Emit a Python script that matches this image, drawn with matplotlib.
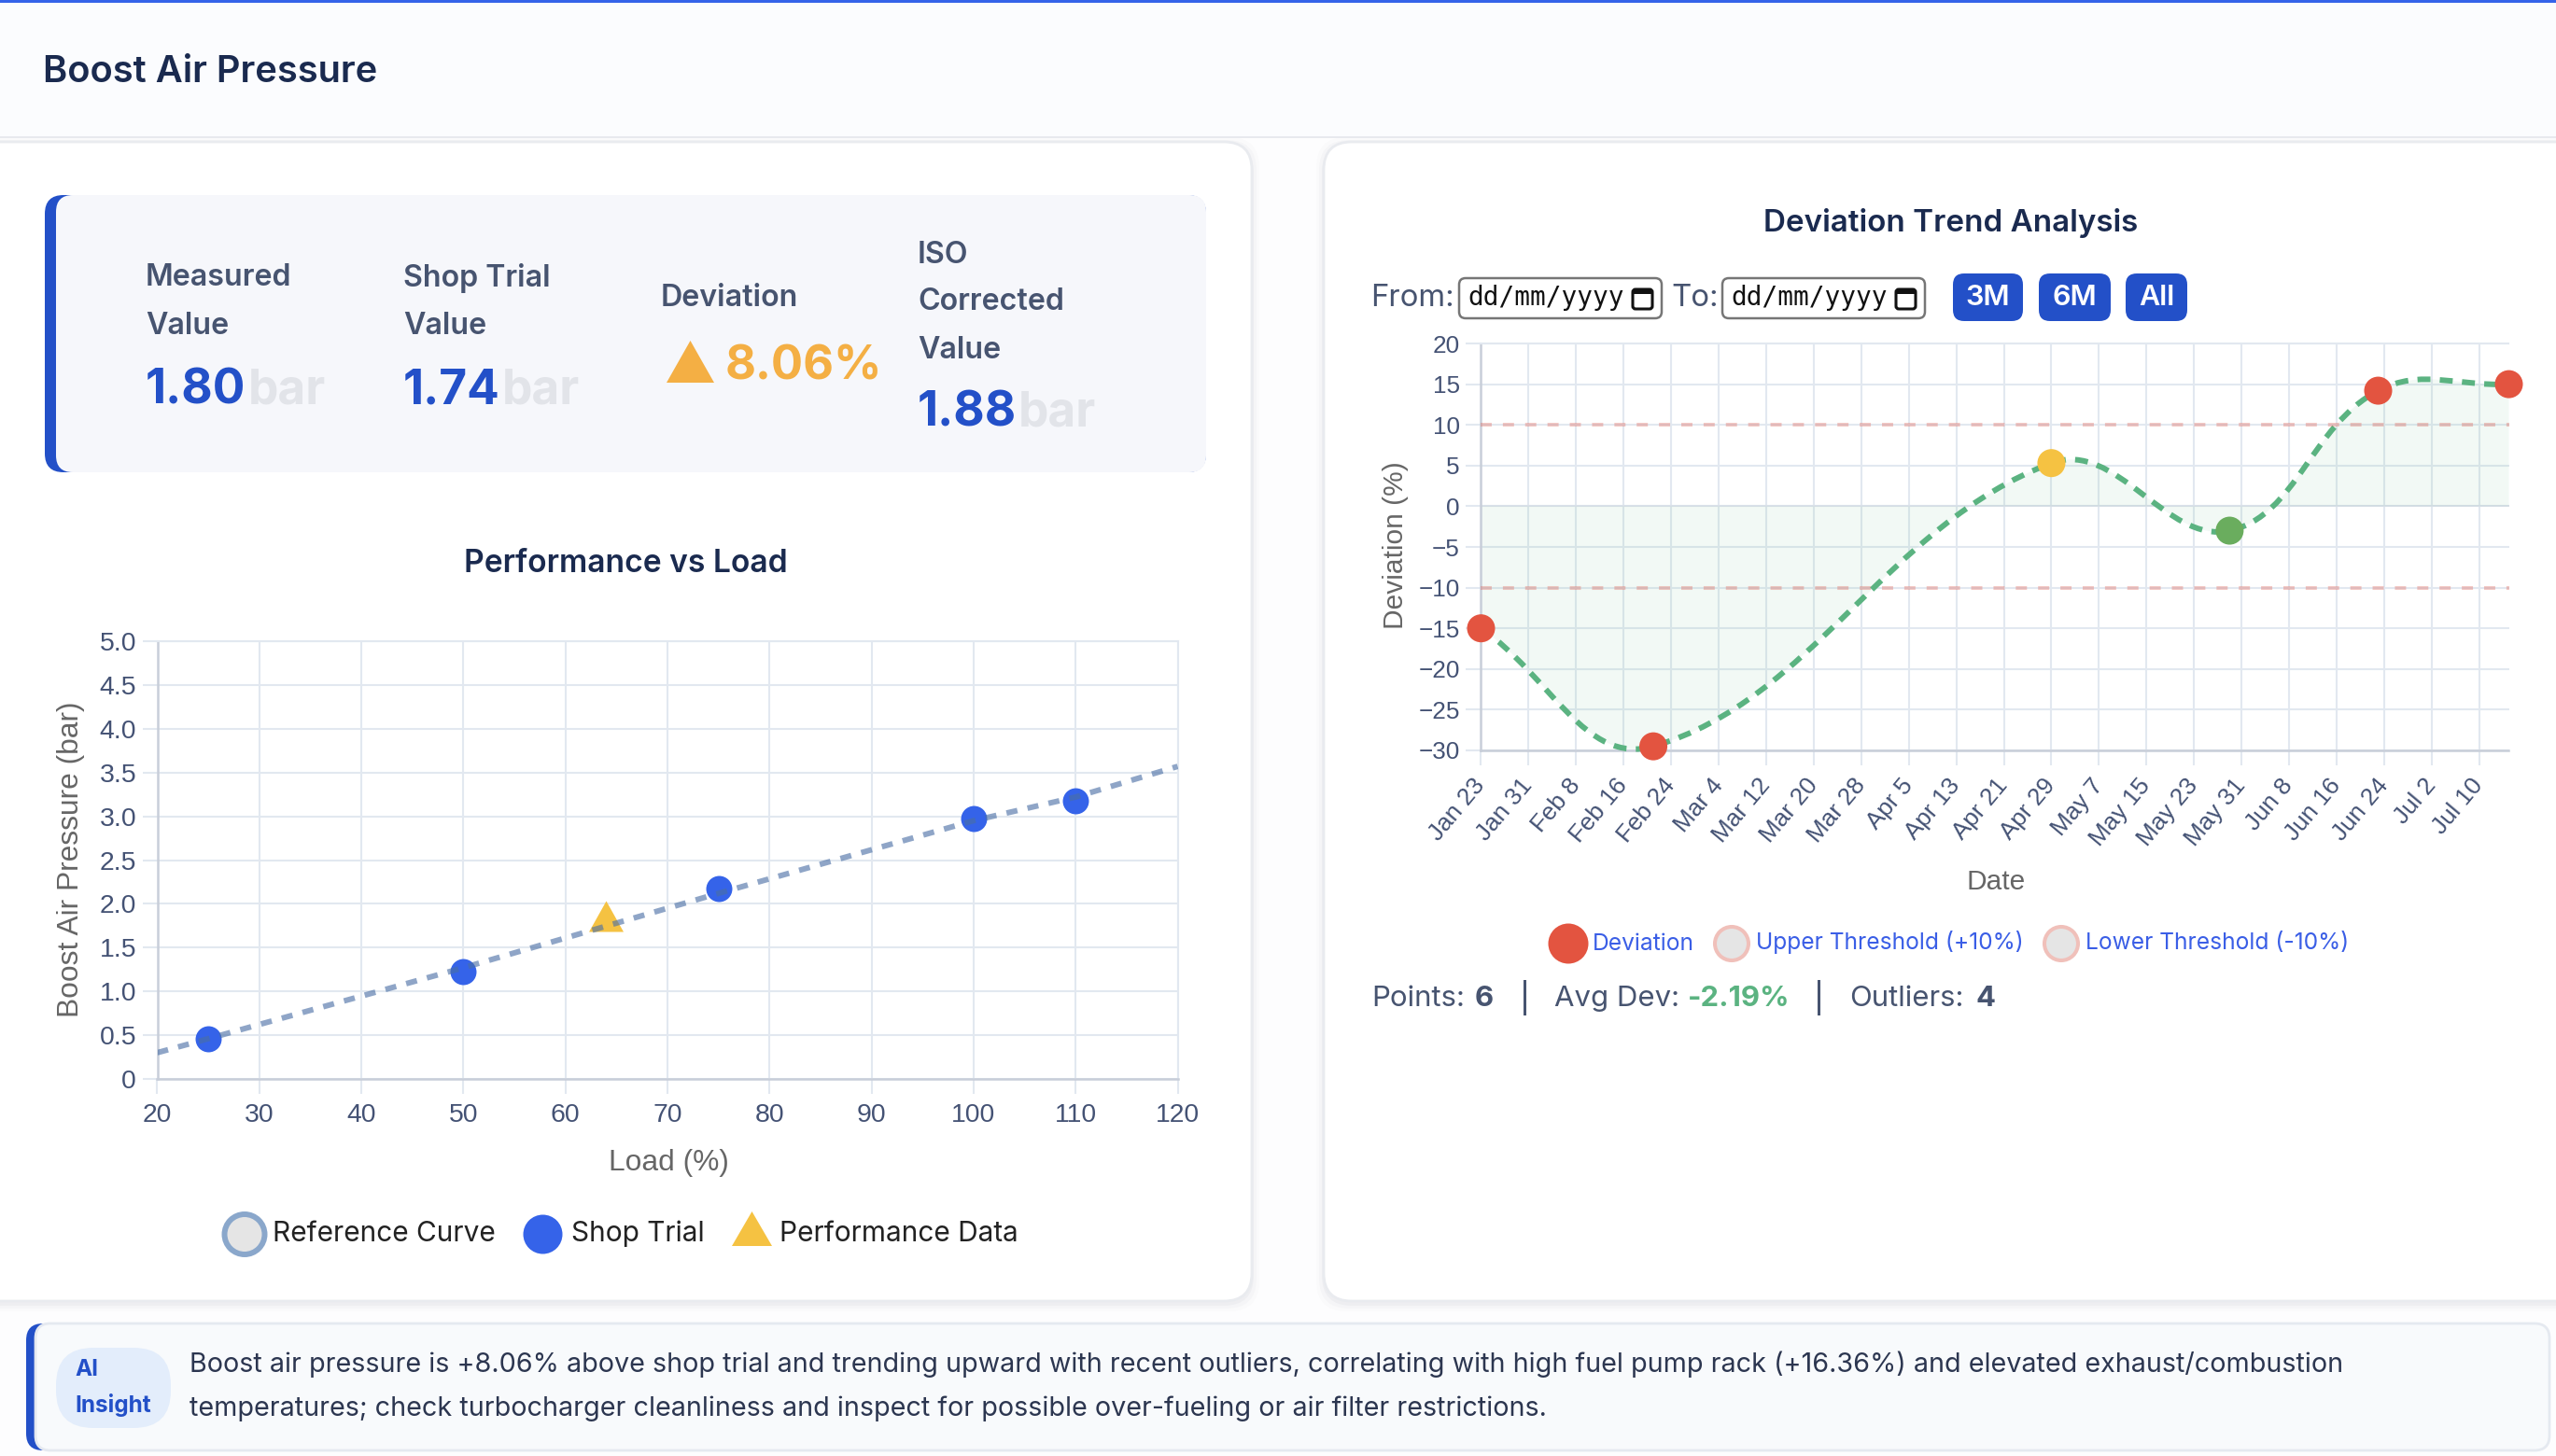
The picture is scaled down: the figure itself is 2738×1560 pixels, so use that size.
import matplotlib
matplotlib.use("Agg")
import matplotlib.pyplot as plt
import matplotlib.dates as mdates
from matplotlib.patches import FancyBboxPatch, Rectangle, Ellipse, Polygon, PathPatch
from matplotlib.path import Path
import numpy as np
import pandas as pd

W, H = 2738, 1560
plt.rcParams['font.family'] = ['Inter', 'DejaVu Sans']
plt.rcParams['lines.scale_dashes'] = False

# ---- data ----
ref_load = [20, 25, 50, 75, 100, 110, 120]
ref_pressure = [0.30, 0.46, 1.27, 2.12, 2.95, 3.22, 3.57]
shop_load = [25, 50, 75, 100, 110]
shop_pressure = [0.46, 1.23, 2.17, 2.97, 3.18]
perf_load = [64]
perf_pressure = [1.80]

dev_dates = ['2025-01-23', '2025-02-21', '2025-04-29', '2025-05-29', '2025-06-23', '2025-07-15']
dev_values = [-15, -29.5, 5.3, -3, 14.2, 15]
dev_colors = ['#e35440', '#e35440', '#f5c242', '#6aad5e', '#e35440', '#e35440']
upper_threshold = 10
lower_threshold = -10

left_yticks = [0, 0.5, 1, 1.5, 2, 2.5, 3, 3.5, 4, 4.5, 5]
left_ylabels = ['0', '0.5', '1.0', '1.5', '2.0', '2.5', '3.0', '3.5', '4.0', '4.5', '5.0']
left_xticks = list(range(20, 121, 10))
right_yticks = list(range(-30, 21, 5))

kpi_labels = [['Measured', 'Value'], ['Shop Trial', 'Value'], ['Deviation'], ['ISO', 'Corrected', 'Value']]
kpi_values = ['1.80', '1.74', '8.06%', '1.88']
insight_lines = [
    'Boost air pressure is +8.06% above shop trial and trending upward with recent outliers, correlating with high fuel pump rack (+16.36%) and elevated exhaust/combustion',
    'temperatures; check turbocharger cleanliness and inspect for possible over-fueling or air filter restrictions.',
]

NAVY = '#1a2a4f'
SLATE = '#475470'
BLUE = '#2350c8'
GRID = '#e2e8f0'
AXIS = '#c8ced9'
TICK = '#445274'
TITLE_AX = '#666666'
CANVAS_FONT = 'Liberation Sans'

fig = plt.figure(figsize=(W / 100, H / 100), dpi=100, facecolor='#fdfdfe')
bg = fig.add_axes([0, 0, 1, 1], zorder=0)
bg.set_xlim(0, W); bg.set_ylim(H, 0); bg.axis('off')


def T(x, y, s, size, color=SLATE, weight='normal', ha='left', va='center', ax=bg, **kw):
    return ax.text(x, y + 3, s, fontsize=size, color=color, fontweight=weight, ha=ha, va=va, **kw)


def box(x0, y0, x1, y1, r, fc, ec='none', lw=0, z=1, ax=bg, **kw):
    p = FancyBboxPatch((x0 + r, y0 + r), x1 - x0 - 2 * r, y1 - y0 - 2 * r,
                       boxstyle=f'round,pad={r},rounding_size={r}', fc=fc, ec=ec, lw=lw, zorder=z, **kw)
    ax.add_patch(p)
    return p


# header
bg.add_patch(Rectangle((0, 0), W, 147, fc='#fbfcfe', ec='none', zorder=1))
bg.add_patch(Rectangle((0, 0), W, 3, fc='#3563e9', ec='none', zorder=2))
bg.add_patch(Rectangle((0, 146), W, 2, fc='#e7e9ee', ec='none', zorder=2))
T(46, 75, 'Boost Air Pressure', 28.7, NAVY, 'semibold', zorder=3)

# cards
for (x0, y0, x1, y1) in [(-40, 152, 1341, 1394), (1418, 152, W + 40, 1394)]:
    for k, a in [(8, .012), (5, .02), (2, .03)]:
        box(x0 - k, y0 - k + 3, x1 + k, y1 + k + 3, 32, '#1a2a4f', z=1.5, alpha=a)
    box(x0, y0, x1, y1, 30, 'white', '#e9ebef', 2, z=2)

# KPI box
box(48, 209, 1292, 506, 20, BLUE, z=3)
box(60, 209, 1292, 506, 18, '#f6f7fb', z=3.1)
kpi_x = [156, 432, 708, 983]
kpi_y = [[295, 346], [295, 346], [316], [271, 321, 372]]
val_y = [416, 416, 390, 440]
for i, lines in enumerate(kpi_labels):
    for s, y in zip(lines, kpi_y[i]):
        T(kpi_x[i], y, s, 23.2, SLATE, 'semibold', zorder=4)
for i in [0, 1, 3]:
    t = T(kpi_x[i], val_y[i], kpi_values[i], 37, BLUE, 'bold', zorder=4)
    fig.canvas.draw()
    e = t.get_window_extent()
    T(e.x1 + 2, val_y[i], 'bar', 37, '#e2e4e9', 'bold', zorder=4)
bg.add_patch(Polygon([[714, 410], [765, 410], [739.5, 365]], fc='#f4af44', ec='none', zorder=4))
T(777, val_y[2], kpi_values[2], 36.5, '#f4af44', 'bold', zorder=4)

# card titles
T(670, 601, 'Performance vs Load', 24.2, NAVY, 'semibold', ha='center', zorder=4)
T(2090, 236, 'Deviation Trend Analysis', 23.9, NAVY, 'semibold', ha='center', zorder=4)


def axes_px(x0, y0, x1, y1):
    a = fig.add_axes([x0 / W, 1 - y1 / H, (x1 - x0) / W, (y1 - y0) / H], zorder=5)
    a.patch.set_alpha(0)
    return a


def style(a, size):
    for s in ['top', 'right']:
        a.spines[s].set_color(GRID); a.spines[s].set_linewidth(1.5)
    for s in ['left', 'bottom']:
        a.spines[s].set_color(AXIS); a.spines[s].set_linewidth(1.8)
    a.grid(True, color=GRID, lw=1.5, zorder=0)
    a.set_axisbelow(True)
    a.tick_params(length=11.2, width=1.5, color=GRID, labelcolor=TICK, labelsize=size, pad=5)
    for lab in a.get_xticklabels() + a.get_yticklabels():
        lab.set_family(CANVAS_FONT)
    for lab in a.get_yticklabels():
        lab.set_va('center_baseline')


# ---- left chart ----
ax = axes_px(168.5, 687, 1261.5, 1156)
ax.set_xlim(20, 120); ax.set_ylim(0, 5)
ax.set_xticks(left_xticks); ax.set_yticks(left_yticks); ax.set_yticklabels(left_ylabels)
style(ax, 20.4)
ax.tick_params(axis='x', pad=7.5)
tri = [(0, 2 / 3), (-0.56, -1 / 3), (0.56, -1 / 3)]
ax.scatter(shop_load, shop_pressure, s=405, color='#3563e9', zorder=3, clip_on=False, linewidths=0)
ax.scatter(perf_load, perf_pressure, s=1004, marker=tri, color='#f5c242', zorder=3, clip_on=False, linewidths=0)
ax.plot(ref_load, ref_pressure, color='#4a6fa5', alpha=.62, lw=4.3, linestyle=(0, (8.6, 8)),
        zorder=4, dash_capstyle='butt')
T(716, 1243, 'Load (%)', 22.9, TITLE_AX, ha='center', family=CANVAS_FONT, zorder=6)
T(76, 918, 'Boost Air Pressure (bar)', 22.9, TITLE_AX, ha='center', rotation=90, family=CANVAS_FONT, zorder=6)

# left legend
bg.add_patch(Ellipse((262, 1322.5), 43, 43, fc='#e5e5e5', ec='#8aa7cb', lw=4.3, zorder=4))
T(292, 1319, 'Reference Curve', 21.5, '#222222', zorder=4)
bg.add_patch(Ellipse((581.5, 1322.5), 42, 42, fc='#3563e9', ec='none', zorder=4))
T(612, 1319, 'Shop Trial', 21.5, '#222222', zorder=4)
bg.add_patch(Polygon([[784, 1335], [827, 1335], [805.5, 1298]], fc='#f5c242', ec='none', zorder=4))
T(835, 1319, 'Performance Data', 21.5, '#222222', zorder=4)

# date filter row
T(1468, 316, 'From:', 23.7, SLATE, zorder=4)
T(1790, 316, 'To:', 23.7, SLATE, zorder=4)
for x0 in [1563, 1845]:
    box(x0, 298, x0 + 217, 341, 7, 'white', '#767676', 1.8, z=4)
    T(x0 + 9, 316, 'dd/mm/yyyy', 20, '#111111', family='DejaVu Sans Mono', zorder=5)
    box(x0 + 186, 310, x0 + 207, 331, 3, 'none', '#111111', 2.2, z=5)
    bg.add_patch(Rectangle((x0 + 186, 310), 21, 5, fc='#111111', ec='none', zorder=5))
for (x0, x1, s) in [(2092, 2167, '3M'), (2184, 2261, '6M'), (2277, 2343, 'All')]:
    box(x0, 293, x1, 344, 12, BLUE, z=4)
    T((x0 + x1) / 2, 316, s, 22, 'white', 'semibold', ha='center', zorder=5)

# ---- right chart ----
dates = mdates.date2num(pd.to_datetime(dev_dates))
tick_dates = pd.date_range('2025-01-23', '2025-07-10', freq='8D')
rx = axes_px(1586.5, 368, 2687.5, 804)
rx.set_xlim(dates[0], dates[-1]); rx.set_ylim(-30, 20)
rx.set_yticks(right_yticks)
rx.set_xticks(mdates.date2num(tick_dates))
rx.set_xticklabels([d.strftime('%b %-d') for d in tick_dates], rotation=50, ha='right', va='center',
                   rotation_mode='anchor')
style(rx, 18.8)
rx.spines['right'].set_visible(False)
rx.tick_params(axis='x', pad=13)
rx.axhline(0, color=AXIS, lw=1.5, alpha=.3, zorder=1)
fig.canvas.draw()

# chart-style tension spline through the points, computed in screen space
pts = rx.transData.transform(np.column_stack([dates, dev_values]))
tension = 0.4
verts = [pts[0]]
codes = [Path.MOVETO]
n = len(pts)
ctrl_next = [None] * n
ctrl_prev = [None] * n
for i in range(n):
    p0 = pts[max(i - 1, 0)]; p1 = pts[i]; p2 = pts[min(i + 1, n - 1)]
    d01 = np.hypot(*(p1 - p0)); d12 = np.hypot(*(p2 - p1))
    tot = d01 + d12
    ctrl_prev[i] = p1 - tension * d01 / tot * (p2 - p0)
    ctrl_next[i] = p1 + tension * d12 / tot * (p2 - p0)
for i in range(n - 1):
    verts += [ctrl_next[i], ctrl_prev[i + 1], pts[i + 1]]
    codes += [Path.CURVE4] * 3
verts = rx.transData.inverted().transform(np.array(verts))
curve = Path(verts, codes)
fill_v = np.vstack([verts, [dates[-1], 0], [dates[0], 0], [dates[0], 0]])
fill_c = codes + [Path.LINETO, Path.LINETO, Path.CLOSEPOLY]
rx.add_patch(PathPatch(Path(fill_v, fill_c), fc='#5bb381', alpha=.075, ec='none', zorder=2))
rx.add_patch(PathPatch(curve, fc='none', ec='#5bb381', lw=4.3, linestyle=(0, (10, 7.2)), zorder=3,
                       capstyle='butt', clip_on=False))
for y in [upper_threshold, lower_threshold]:
    rx.axhline(y, color='#e05a4e', alpha=.33, lw=2.9, linestyle=(0, (8.6, 8.6)), zorder=3)
rx.scatter(dates, dev_values, s=467, c=dev_colors, zorder=5, clip_on=False, linewidths=0)
T(2138, 942, 'Date', 21.5, TITLE_AX, ha='center', family=CANVAS_FONT, zorder=6)
T(1495, 581, 'Deviation (%)', 21.5, TITLE_AX, ha='center', rotation=90, family=CANVAS_FONT, zorder=6)

# right legend
LEG = '#3a5ee6'
bg.add_patch(Ellipse((1680, 1011), 43, 43, fc='#e35440', ec='none', zorder=4))
T(1706, 1008, 'Deviation', 17.7, LEG, zorder=4)
bg.add_patch(Ellipse((1855, 1011), 36, 36, fc='#e5e5e5', ec='#f0c0ba', lw=2.9, zorder=4))
T(1881, 1006.5, 'Upper Threshold (+10%)', 17.7, LEG, zorder=4)
bg.add_patch(Ellipse((2208, 1011), 36, 36, fc='#e5e5e5', ec='#f0c0ba', lw=2.9, zorder=4))
T(2234, 1008, 'Lower Threshold (-10%)', 17.7, LEG, zorder=4)

# stats row
T(1469, 1067, 'Points:', 22.4, SLATE, zorder=4)
T(1580, 1067, '6', 22.4, SLATE, 'bold', zorder=4)
bg.add_patch(Rectangle((1632, 1050), 2.5, 38, fc=SLATE, ec='none', zorder=4))
T(1665, 1067, 'Avg Dev:', 22.4, SLATE, zorder=4)
T(1808, 1067, '-2.19%', 22.4, '#5bb381', 'bold', zorder=4)
bg.add_patch(Rectangle((1947, 1050), 2.5, 38, fc=SLATE, ec='none', zorder=4))
T(1981, 1067, 'Outliers:', 22.4, SLATE, zorder=4)
T(2117, 1067, '4', 22.4, SLATE, 'bold', zorder=4)

# insight box
box(28, 1418, 2731, 1554, 18, BLUE, z=3)
box(38, 1418, 2731, 1554, 16, '#f8fafc', '#e5e9f0', 2, z=3.1)
box(60, 1444, 183, 1530, 40, '#e3edfb', z=4)
T(80, 1464, 'AI', 17.5, BLUE, 'bold', zorder=5)
T(80, 1502, 'Insight', 17.5, BLUE, 'bold', zorder=5)
T(203, 1459, insight_lines[0], 20.7, '#2c3650', zorder=5)
T(203, 1506, insight_lines[1], 20.7, '#2c3650', zorder=5)

fig.savefig('out.png', dpi=100, facecolor=fig.get_facecolor())
